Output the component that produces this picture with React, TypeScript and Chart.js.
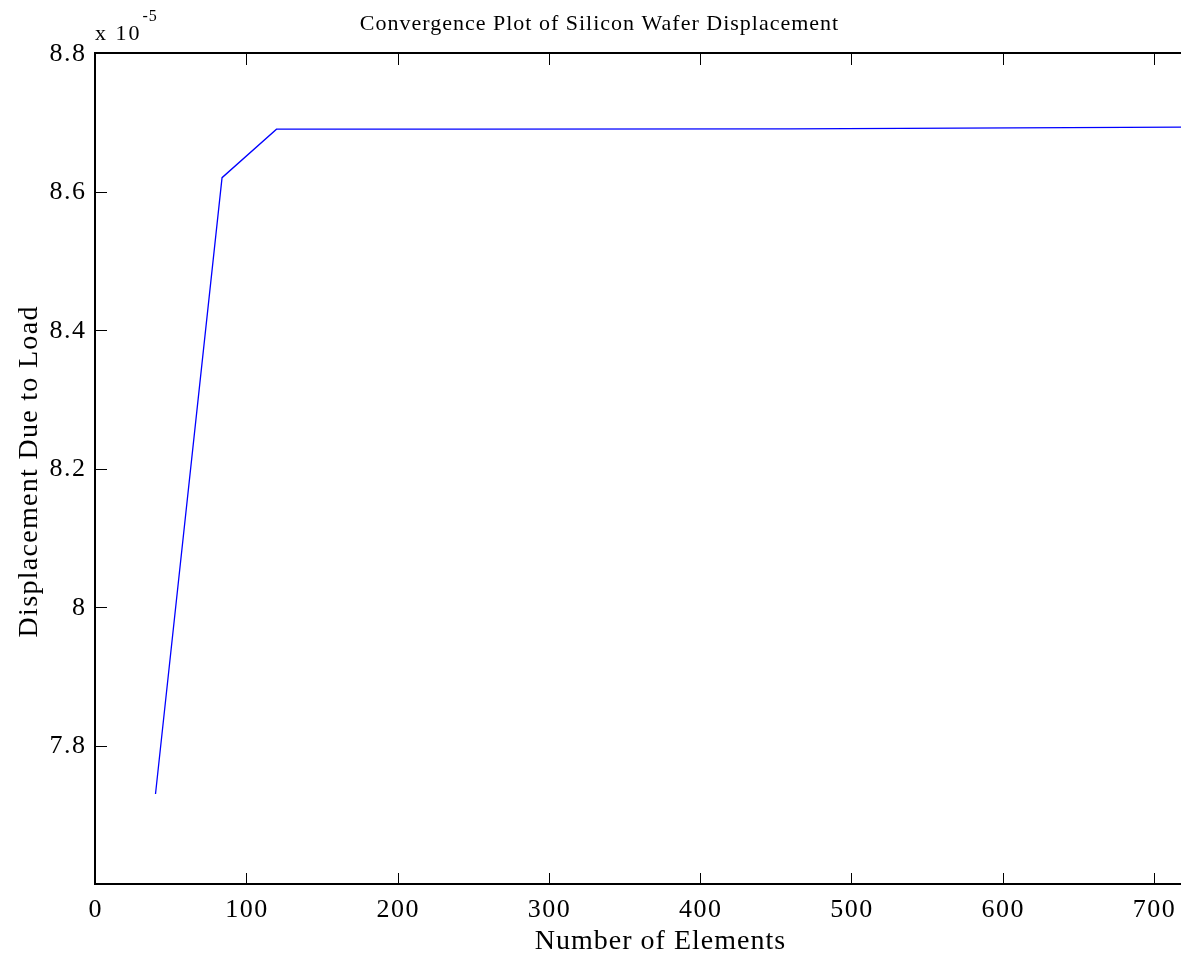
import React, { useEffect, useRef } from "react";
import { Chart, registerables } from "chart.js";

Chart.register(...registerables);

// Number of mesh elements
const elements: number[] = [40, 84, 120, 250, 460, 720];
// Displacement due to load, in units of 1e-5
const displacement: number[] = [7.73, 8.62, 8.69, 8.69, 8.6905, 8.693];

const xTicks: number[] = [0, 100, 200, 300, 400, 500, 600, 700];
const yTicks: number[] = [7.6, 7.8, 8.0, 8.2, 8.4, 8.6, 8.8];
const yTickLabels: string[] = ["", "7.8", "8", "8.2", "8.4", "8.6", "8.8"];

const chartTitle = "Convergence Plot of Silicon Wafer Displacement";
const xTitle = "Number of Elements";
const yTitle = "Displacement Due to Load";
const exponentBase = "x 10";
const exponentPower = "-5";

const FONT = "'Liberation Serif', 'Times New Roman', serif";

function spacedText(
  ctx: CanvasRenderingContext2D,
  text: string,
  x: number,
  y: number,
  spacing: number,
  align: "left" | "center" | "right"
) {
  const c: any = ctx;
  c.letterSpacing = spacing + "px";
  const w = ctx.measureText(text).width - spacing;
  ctx.textAlign = "left";
  let sx = x;
  if (align === "center") sx = x - w / 2;
  if (align === "right") sx = x - w;
  ctx.fillText(text, sx, y);
  c.letterSpacing = "0px";
  return w;
}

const matlabPlugin = {
  id: "matlabDecor",
  afterDraw(chart: any) {
    const { ctx, chartArea, scales } = chart;
    const xs = scales.x;
    const ys = scales.y;
    const { left, right, top, bottom } = chartArea;
    ctx.save();
    ctx.strokeStyle = "#000";
    ctx.lineWidth = 2;
    ctx.beginPath();
    ctx.moveTo(left, top);
    ctx.lineTo(left, bottom);
    ctx.moveTo(left - 1, top);
    ctx.lineTo(right, top);
    ctx.moveTo(left - 1, bottom);
    ctx.lineTo(right, bottom);
    ctx.stroke();
    ctx.lineWidth = 1;
    ctx.beginPath();
    xTicks.forEach((v) => {
      if (v === 0) return;
      const px = Math.round(xs.getPixelForValue(v)) + 0.5;
      ctx.moveTo(px, bottom);
      ctx.lineTo(px, bottom - 11);
      ctx.moveTo(px, top);
      ctx.lineTo(px, top + 12);
    });
    yTicks.forEach((v) => {
      const py = Math.round(ys.getPixelForValue(v)) + 0.5;
      ctx.moveTo(left, py);
      ctx.lineTo(left + 12, py);
    });
    ctx.stroke();

    ctx.fillStyle = "#000";
    // tick labels
    ctx.font = `26px ${FONT}`;
    ctx.textBaseline = "middle";
    xTicks.forEach((v) => {
      spacedText(ctx, String(v), xs.getPixelForValue(v), bottom + 26, 1.5, "center");
    });
    yTicks.forEach((v, i) => {
      if (!yTickLabels[i]) return;
      spacedText(ctx, yTickLabels[i], left - 10, ys.getPixelForValue(v) + 1, 1.5, "right");
    });
    // title
    ctx.textBaseline = "alphabetic";
    ctx.font = `22px ${FONT}`;
    spacedText(ctx, chartTitle, 599, 30, 1, "center");
    // exponent
    ctx.font = `22px ${FONT}`;
    const w = spacedText(ctx, exponentBase, 95, 40, 2, "left");
    ctx.font = `16px ${FONT}`;
    spacedText(ctx, exponentPower, 95 + w + 3, 21, 1, "left");
    // x title
    ctx.font = `28px ${FONT}`;
    ctx.textBaseline = "middle";
    spacedText(ctx, xTitle, 660, 942, 1, "center");
    // y title
    ctx.save();
    ctx.translate(30, 472);
    ctx.rotate(-Math.PI / 2);
    spacedText(ctx, yTitle, 0, 0, 1.3, "center");
    ctx.restore();
    ctx.restore();
  },
};

export default function App() {
  const canvasRef = useRef<HTMLCanvasElement | null>(null);

  useEffect(() => {
    if (!canvasRef.current) return;
    const chart = new Chart(canvasRef.current, {
      type: "line",
      data: {
        datasets: [
          {
            data: elements.map((x, i) => ({ x, y: displacement[i] })),
            borderColor: "#0000ff",
            borderWidth: 1.3,
            pointRadius: 0,
            fill: false,
            tension: 0,
          },
        ],
      },
      options: {
        animation: false,
        responsive: true,
        maintainAspectRatio: false,
        devicePixelRatio: 1,
        layout: { padding: { top: 53, left: 0, right: 0, bottom: 0 } },
        plugins: {
          legend: { display: false },
          tooltip: { enabled: false },
          title: { display: false },
        },
        scales: {
          x: {
            type: "linear",
            min: 0,
            max: 718,
            grid: { display: false, drawTicks: false },
            border: { display: false },
            afterBuildTicks: (scale: any) => {
              scale.ticks = xTicks.map((v) => ({ value: v }));
            },
            afterFit: (scale: any) => {
              scale.height = 72;
            },
            ticks: { display: false },
          },
          y: {
            type: "linear",
            min: 7.6,
            max: 8.8,
            grid: { display: false, drawTicks: false },
            border: { display: false },
            afterBuildTicks: (scale: any) => {
              scale.ticks = yTicks.map((v) => ({ value: v }));
            },
            afterFit: (scale: any) => {
              scale.width = 95;
            },
            ticks: { display: false },
          },
        },
      },
      plugins: [matlabPlugin],
    });
    return () => chart.destroy();
  }, []);

  return (
    <div style={{ position: "absolute", left: 0, top: 0, width: 1181, height: 956, background: "#fff" }}>
      <canvas ref={canvasRef} />
    </div>
  );
}
